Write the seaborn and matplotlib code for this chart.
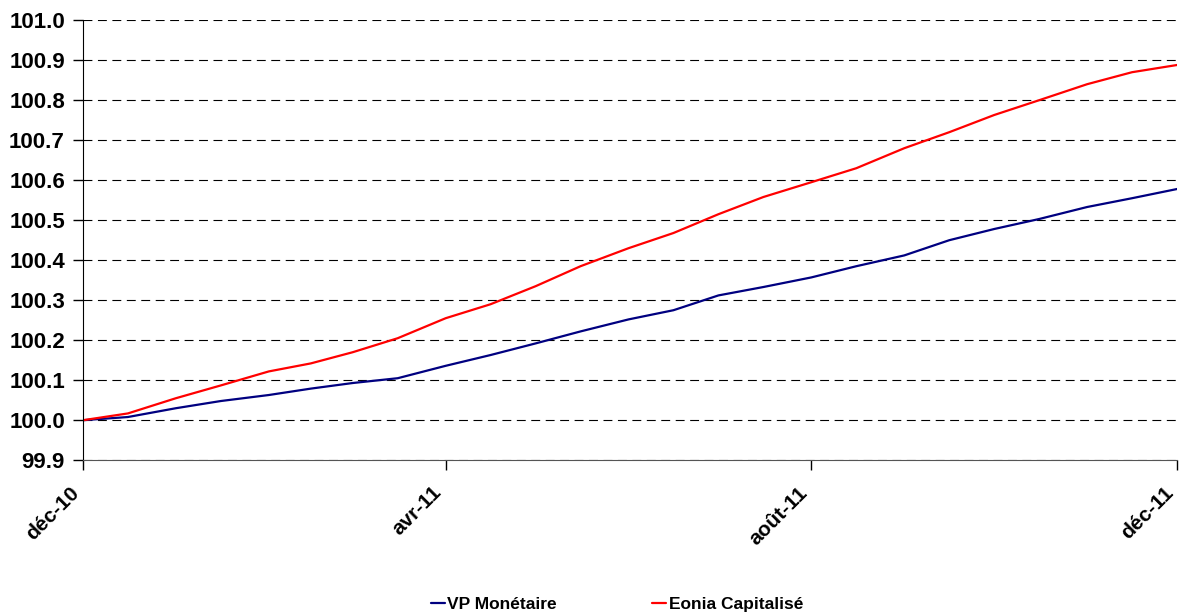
import pandas as pd
import matplotlib
matplotlib.use("Agg")
import matplotlib.pyplot as plt
import seaborn as sns

# dates semi-mensuelles, déc-10 -> déc-11
dates = pd.to_datetime([
    "2010-12-01", "2010-12-16", "2011-01-01", "2011-01-16", "2011-02-01",
    "2011-02-15", "2011-03-01", "2011-03-16", "2011-04-01", "2011-04-16",
    "2011-05-01", "2011-05-16", "2011-06-01", "2011-06-16", "2011-07-01",
    "2011-07-16", "2011-08-01", "2011-08-16", "2011-09-01", "2011-09-16",
    "2011-10-01", "2011-10-16", "2011-11-01", "2011-11-16", "2011-12-01",
])

vp_monetaire = [
    100.000, 100.008, 100.030, 100.048, 100.063, 100.079, 100.093, 100.105,
    100.136, 100.163, 100.192, 100.222, 100.252, 100.275, 100.312, 100.333,
    100.357, 100.385, 100.412, 100.450, 100.478, 100.503, 100.533, 100.555,
    100.578,
]
eonia_cap = [
    100.000, 100.017, 100.055, 100.087, 100.122, 100.142, 100.170, 100.205,
    100.255, 100.290, 100.335, 100.385, 100.430, 100.468, 100.515, 100.558,
    100.595, 100.630, 100.680, 100.720, 100.763, 100.800, 100.840, 100.870,
    100.888,
]

series_names = ["VP Monétaire", "Eonia Capitalisé"]
tick_dates = pd.to_datetime(["2010-12-01", "2011-04-01", "2011-08-01", "2011-12-01"])
tick_labels = ["déc-10", "avr-11", "août-11", "déc-11"]

df = pd.DataFrame({
    "date": list(dates) * 2,
    "valeur": vp_monetaire + eonia_cap,
    "serie": [series_names[0]] * len(dates) + [series_names[1]] * len(dates),
})

sns.set_style("white")
plt.rcParams["font.family"] = ["Liberation Sans", "DejaVu Sans"]
plt.rcParams["text.color"] = "black"
plt.rcParams["xtick.color"] = "black"
plt.rcParams["ytick.color"] = "black"

fig = plt.figure(figsize=(11.8, 6.12), dpi=100)
ax = fig.add_axes([0.0703, 0.248, 0.9272, 0.719])

sns.lineplot(data=df, x="date", y="valeur", hue="serie",
             palette={"VP Monétaire": "#000080", "Eonia Capitalisé": "#FF0000"},
             linewidth=1.6, ax=ax)

ax.set_xlim(tick_dates[0], tick_dates[-1])
ax.set_ylim(99.9, 101.0)
ax.set_yticks([99.9 + 0.1 * i for i in range(12)])
ax.set_yticklabels([f"{99.9 + 0.1 * i:.1f}" for i in range(12)],
                   fontsize=16, fontweight="bold")
ax.set_xticks(tick_dates)
# ancre en bas à droite : le bout du texte tombe sous le tick
ax.set_xticklabels(tick_labels, rotation=45, ha="right", va="bottom",
                   rotation_mode="anchor", fontsize=15, fontweight="bold")
ax.set_xlabel("")
ax.set_ylabel("")

ax.yaxis.grid(True, color="black", linestyle=(0, (8, 5)), linewidth=0.8)
ax.xaxis.grid(False)
ax.set_axisbelow(True)

for side in ["top", "right"]:
    ax.spines[side].set_visible(False)
ax.spines["left"].set_color("black")
ax.spines["bottom"].set_color("#555555")
ax.tick_params(axis="both", direction="out", length=7, width=1, color="black",
               left=True, bottom=True)
ax.tick_params(axis="y", pad=6)
ax.tick_params(axis="x", pad=19)

handles, labels = ax.get_legend_handles_labels()
ax.legend(handles, labels, loc="lower center", bbox_to_anchor=(0.488, -0.38),
          ncol=2, frameon=False, handlelength=0.8,
          handletextpad=0.15, columnspacing=5.5,
          prop={"weight": "bold", "size": 12.5})

fig.savefig("out.png", dpi=100)
